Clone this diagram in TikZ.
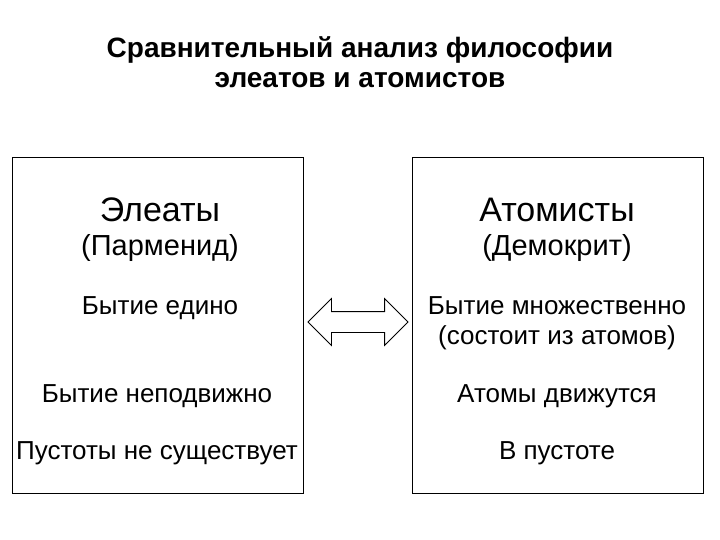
\documentclass[tikz,border=0pt]{standalone}
\usepackage{fontspec}
\setmainfont{Liberation Sans}
\usetikzlibrary{shapes.arrows}
\begin{document}
\begin{tikzpicture}[x=1pt,y=-1pt,
  panel/.style={draw,line width=1pt,minimum width=291pt,minimum height=336pt,anchor=north west},
  head/.style={font=\fontsize{34}{38}\selectfont},
  sub/.style={font=\fontsize{29}{32}\selectfont},
  txt/.style={font=\fontsize{26}{30}\selectfont,align=center}]
\useasboundingbox (0,0) rectangle (720,540);
\node[font=\fontsize{28}{30}\selectfont\bfseries,align=center] (title) at (360,62) {Сравнительный анализ философии\\элеатов и атомистов};
\node[panel] (L) at (12,157) {};
\node[panel] (R) at (412,157) {};
\node[head] (l1) at (160,210) {Элеаты};
\node[sub] (l2) at (160,248) {(Парменид)};
\node[txt] (l3) at (160,308) {Бытие едино};
\node[txt] (l4) at (157,396) {Бытие неподвижно};
\node[txt] (l5) at (157,453) {Пустоты не существует};
\node[head] (r1) at (557,210) {Атомисты};
\node[sub] (r2) at (557,248) {(Демокрит)};
\node[txt] (r3) at (557,323) {Бытие множественно\\(состоит из атомов)};
\node[txt] (r4) at (557,396) {Атомы движутся};
\node[txt] (r5) at (557,453) {В пустоте};
\node[double arrow,draw,line width=0.8pt,minimum width=46pt,minimum height=100pt,
  double arrow head extend=13pt,inner sep=0pt,text height=20pt] (arr) at (358,322) {};
\end{tikzpicture}
\end{document}
